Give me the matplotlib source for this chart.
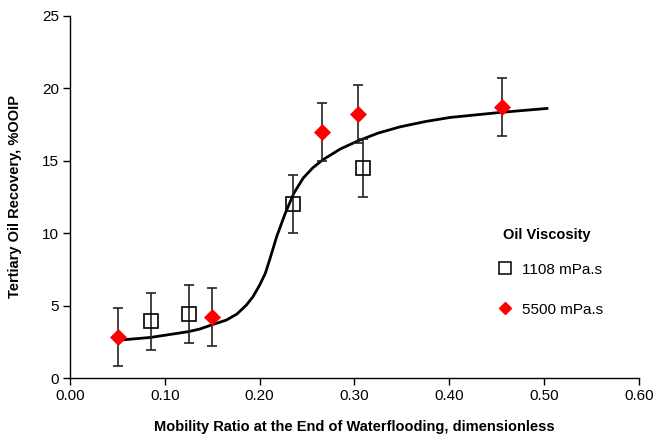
import numpy as np
import matplotlib
matplotlib.use("Agg")
import matplotlib.pyplot as plt
from matplotlib.lines import Line2D

plt.rcParams['font.family'] = ['Liberation Sans', 'DejaVu Sans']

# 1108 mPa.s samples (open squares)
x_1108 = [0.0855, 0.125, 0.2356, 0.309]
y_1108 = [3.9, 4.4, 12.0, 14.5]
err_1108 = [2.0, 2.0, 2.0, 2.0]

# 5500 mPa.s samples (red diamonds)
x_5500 = [0.051, 0.150, 0.266, 0.304, 0.456]
y_5500 = [2.8, 4.2, 17.0, 18.2, 18.7]
err_5500 = [2.0, 2.0, 2.0, 2.0, 2.0]

# trend curve
curve_x = [0.050, 0.085, 0.125, 0.137, 0.151, 0.165, 0.176, 0.186, 0.193,
           0.200, 0.206, 0.211, 0.218, 0.227, 0.236, 0.246, 0.256, 0.266,
           0.285, 0.304, 0.325, 0.348, 0.375, 0.401, 0.456, 0.503]
curve_y = [2.6, 2.8, 3.2, 3.38, 3.7, 4.0, 4.41, 5.03, 5.61,
           6.41, 7.22, 8.25, 9.76, 11.36, 12.74, 13.8, 14.5, 15.03,
           15.8, 16.37, 16.9, 17.33, 17.7, 17.98, 18.34, 18.6]

xticks = [0.0, 0.1, 0.2, 0.3, 0.4, 0.5, 0.6]
yticks = [0, 5, 10, 15, 20, 25]

fig = plt.figure(figsize=(6.57, 4.4), dpi=100)
ax = fig.add_axes([0.1065, 0.1409, 0.866, 0.8234])

ax.plot(curve_x, curve_y, color='black', lw=2.0, zorder=2,
        solid_joinstyle='round')

ax.errorbar(x_1108, y_1108, yerr=err_1108, fmt='none', ecolor='#222222',
            elinewidth=1.2, capsize=3.5, capthick=1.2, zorder=3)
ax.errorbar(x_5500, y_5500, yerr=err_5500, fmt='none', ecolor='#222222',
            elinewidth=1.2, capsize=3.5, capthick=1.2, zorder=3)
ax.plot(x_1108, y_1108, ls='none', marker='s', ms=9.5, mfc='none',
        mec='black', mew=1.2, zorder=4)
ax.plot(x_5500, y_5500, ls='none', marker='D', ms=8.5, mfc='red',
        mec='red', mew=0.5, zorder=4)

ax.set_xlim(0, 0.6)
ax.set_ylim(0, 25)
ax.set_xticks(xticks)
ax.set_xticklabels([f"{t:.2f}" for t in xticks])
ax.set_yticks(yticks)
ax.tick_params(direction='out', length=5, width=1, labelsize=11, pad=3)
for s in ['top', 'right']:
    ax.spines[s].set_visible(False)
for s in ['left', 'bottom']:
    ax.spines[s].set_linewidth(1)

ax.set_xlabel('Mobility Ratio at the End of Waterflooding, dimensionless',
              fontsize=10.5, fontweight='bold', labelpad=12)
ax.set_ylabel('Tertiary Oil Recovery, %OOIP', fontsize=10.5,
              fontweight='bold', labelpad=14)

# legend title drawn as plain text, the box holds only the two entries
ax.text(0.761, 0.395, 'Oil Viscosity', transform=ax.transAxes,
        fontsize=10.5, fontweight='bold', va='center', ha='left')
handles = [Line2D([], [], ls='none', marker='s', ms=8, mfc='none',
                  mec='black', mew=1.1),
           Line2D([], [], ls='none', marker='D', ms=6, mfc='red', mec='red')]
leg = ax.legend(handles, ['1108 mPa.s', '5500 mPa.s'],
                loc='upper left', bbox_to_anchor=(0.733, 0.356),
                frameon=False, fontsize=11, labelspacing=1.7,
                handlelength=0.6, handletextpad=0.8)

fig.savefig('out.png', dpi=100)
